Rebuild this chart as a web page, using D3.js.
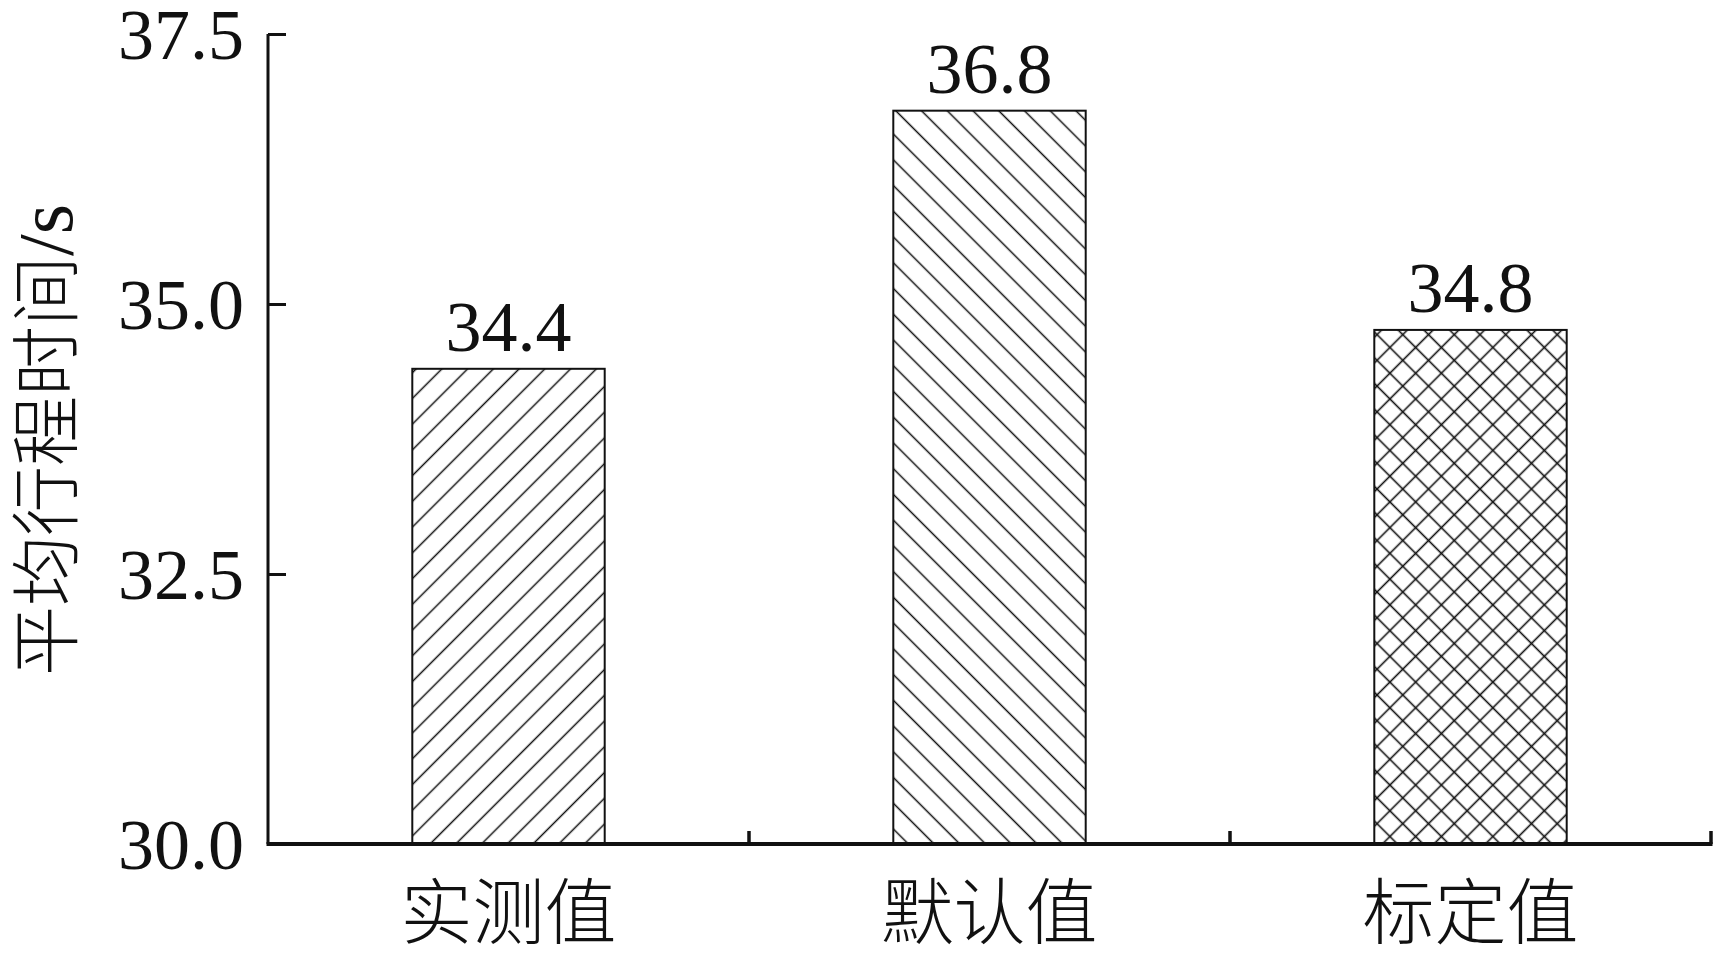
<!DOCTYPE html>
<html>
<head>
<meta charset="utf-8">
<script src="https://cdn.jsdelivr.net/npm/d3@7/dist/d3.min.js"></script>
<style>
  html, body { margin: 0; padding: 0; background: #fff; }
  svg { display: block; }
</style>
</head>
<body>
<svg id="chart" width="1721" height="955"></svg>
<script>
// ---- data ----
const categories = ["实测值", "默认值", "标定值"];
const values = [34.40, 36.79, 34.76];
const valueLabels = ["34.4", "36.8", "34.8"];
const patterns = ["fwd", "back", "cross"];
const yTicks = [30.0, 32.5, 35.0, 37.5];
const yTitle = "平均行程时间/s";

// ---- layout ----
const W = 1721, H = 955;
const x0 = 268, x1 = 1711, yBottom = 844, yTop = 34;
const numFont = "'Liberation Serif', 'Times New Roman', serif";
const cjkFont = "'Liberation Serif', 'Noto Sans CJK SC', serif";

const svg = d3.select("#chart");

const x = d3.scaleBand().domain(categories).range([x0, x1])
  .paddingInner(0.6).paddingOuter(0.3);
const y = d3.scaleLinear().domain([30, 37.5]).range([yBottom, yTop]);

// ---- patterns ----
const defs = svg.append("defs");
const sp = 18.2;
function hatch(id, angle) {
  const p = defs.append("pattern").attr("id", id)
    .attr("patternUnits", "userSpaceOnUse")
    .attr("width", sp).attr("height", sp)
    .attr("patternTransform", `rotate(${angle})`);
  p.append("rect").attr("width", sp).attr("height", sp).attr("fill", "#fff");
  p.append("line").attr("x1", sp / 2).attr("x2", sp / 2).attr("y1", -1).attr("y2", sp + 1)
    .attr("stroke", "#111").attr("stroke-width", 1.5);
}
hatch("fwd", 45);
hatch("back", -45);
{
  const p = defs.append("pattern").attr("id", "cross")
    .attr("patternUnits", "userSpaceOnUse")
    .attr("width", sp).attr("height", sp)
    .attr("patternTransform", "rotate(45)");
  p.append("rect").attr("width", sp).attr("height", sp).attr("fill", "#fff");
  p.append("line").attr("x1", sp / 2).attr("x2", sp / 2).attr("y1", -1).attr("y2", sp + 1)
    .attr("stroke", "#111").attr("stroke-width", 1.6);
  p.append("line").attr("y1", sp / 2).attr("y2", sp / 2).attr("x1", -1).attr("x2", sp + 1)
    .attr("stroke", "#111").attr("stroke-width", 1.6);
}

// ---- bars ----
const data = categories.map((c, i) => ({ c, v: values[i], label: valueLabels[i], pat: patterns[i] }));

svg.append("g").selectAll("rect").data(data).join("rect")
  .attr("x", d => x(d.c))
  .attr("y", d => y(d.v))
  .attr("width", x.bandwidth())
  .attr("height", d => y(30) - y(d.v))
  .attr("fill", d => `url(#${d.pat})`)
  .attr("stroke", "#111").attr("stroke-width", 2);

svg.append("g").selectAll("text").data(data).join("text")
  .attr("x", d => x(d.c) + x.bandwidth() / 2)
  .attr("y", d => y(d.v) - 18)
  .attr("text-anchor", "middle")
  .attr("font-family", numFont).attr("font-size", 72).attr("fill", "#111")
  .text(d => d.label);

// ---- y axis ----
const yAxis = d3.axisRight(y).tickValues(yTicks).tickSize(18).tickFormat(() => "");
const gy = svg.append("g").attr("transform", `translate(${x0},0)`).call(yAxis);
gy.select(".domain").attr("stroke", "#111").attr("stroke-width", 3)
  .attr("d", `M0,${yTop}V${yBottom}`);
gy.selectAll(".tick line").attr("stroke", "#111").attr("stroke-width", 3);

svg.append("g").selectAll("text").data(yTicks).join("text")
  .attr("x", x0 - 24)
  .attr("y", d => y(d))
  .attr("dy", "0.35em")
  .attr("text-anchor", "end")
  .attr("font-family", numFont).attr("font-size", 72).attr("fill", "#111")
  .text(d => d3.format(".1f")(d));

// ---- x axis ----
const xBoundaries = [x0 + (x1 - x0) / 3, x0 + 2 * (x1 - x0) / 3, x1];
const gx = svg.append("g");
gx.append("line").attr("x1", x0 - 1.5).attr("x2", x1 + 1.5).attr("y1", yBottom).attr("y2", yBottom)
  .attr("stroke", "#111").attr("stroke-width", 4);
gx.selectAll("line.t").data(xBoundaries).join("line").attr("class", "t")
  .attr("x1", d => d).attr("x2", d => d)
  .attr("y1", yBottom).attr("y2", yBottom - 13)
  .attr("stroke", "#111").attr("stroke-width", 3.5);

svg.append("g").selectAll("text").data(categories).join("text")
  .attr("x", d => x(d) + x.bandwidth() / 2)
  .attr("y", 938)
  .attr("text-anchor", "middle")
  .attr("font-family", cjkFont).attr("font-size", 72).attr("font-weight", 300).attr("fill", "#111")
  .text(d => d);

// ---- y title ----
svg.append("text")
  .attr("transform", `translate(72, 440) rotate(-90)`)
  .attr("text-anchor", "middle")
  .attr("font-family", cjkFont).attr("font-size", 70).attr("font-weight", 300).attr("fill", "#111")
  .text("平均行程时间")
  .append("tspan").attr("font-size", 78).attr("font-weight", 400).text("/s");
</script>
</body>
</html>
